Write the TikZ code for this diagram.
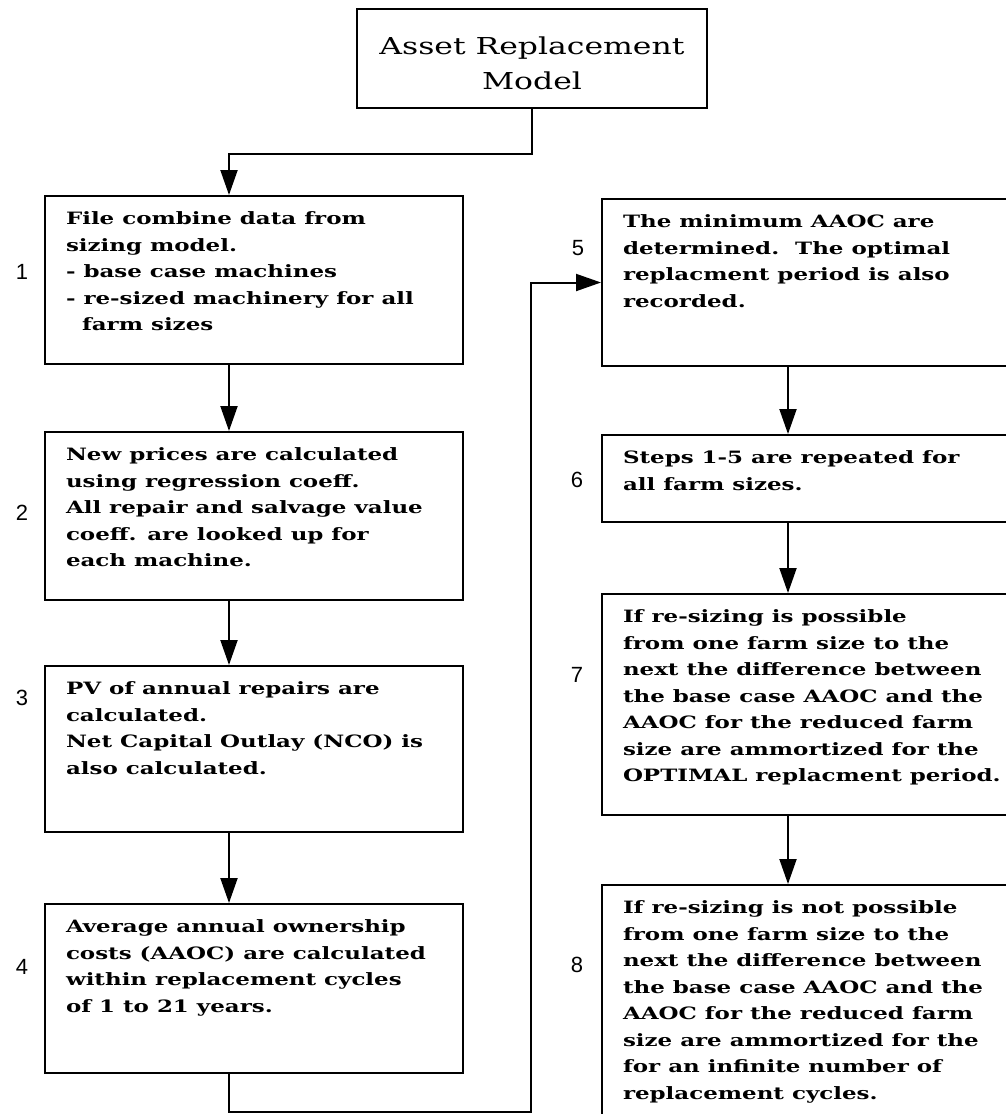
\documentclass[tikz,border=0pt]{standalone}
\usepackage{fontspec}
\usetikzlibrary{arrows.meta}
\newfontfamily\boxfont{DejaVu Serif}[FakeStretch=1.35]
\newfontfamily\labelfont{Liberation Sans}
\newcommand{\stepbody}[2]{\parbox[c][#1][t]{188pt}{\begin{tabular}{@{}l@{}}#2\end{tabular}}}
\tikzset{
  stepbox/.style={draw, line width=1pt, anchor=north west, inner xsep=10.5pt, inner ysep=5pt,
    font=\boxfont\bfseries\fontsize{8.5}{13.25}\selectfont},
  titlebox/.style={draw, line width=1pt, minimum width=175pt, minimum height=49.5pt,
    inner sep=0pt, align=center, font=\boxfont\fontsize{11.65}{17.5}\selectfont},
  steplabel/.style={font=\labelfont\fontsize{11}{13}\selectfont},
  flow/.style={line width=1pt, -{Triangle[length=12.5pt,width=8.5pt]}}
}
\begin{document}
\begin{tikzpicture}[x=0.5pt,y=-0.5pt]
\useasboundingbox (0,0) rectangle (1006,1114);
\clip (0,0) rectangle (1006,1114);
% columns of the flow lines
\coordinate (colL) at (229,0);
\coordinate (colR) at (788,0);
\coordinate (loopx) at (531,0);
\coordinate (bot) at (0,1112);
\node[titlebox] (title) at (532,58.5) {\rule{0pt}{14pt}Asset Replacement\\Model};
% left column
\node[stepbox] (s1) at (44,195) {\stepbody{74pt}{File combine data from\\sizing model.\\- base case machines\\- re-sized machinery for all\\\hspace*{8pt}farm sizes}};
\node[stepbox] (s2) at (44,431) {\stepbody{74pt}{New prices are calculated\\using regression coeff.\\All repair and salvage value\\coeff. are looked up for\\each machine.}};
\node[stepbox] (s3) at (44,665) {\stepbody{73pt}{PV of annual repairs are\\calculated.\\Net Capital Outlay (NCO) is\\also calculated.}};
\node[stepbox] (s4) at (44,903) {\stepbody{74.5pt}{Average annual ownership\\costs (AAOC) are calculated\\within replacement cycles\\of 1 to 21 years.}};
% right column
\node[stepbox] (s5) at (601,198) {\stepbody{73.5pt}{The minimum AAOC are\\determined.\ \ The optimal\\replacment period is also\\recorded.}};
\node[stepbox] (s6) at (601,434) {\stepbody{33.5pt}{Steps 1-5 are repeated for\\all farm sizes.}};
\node[stepbox] (s7) at (601,593) {\stepbody{100.5pt}{If re-sizing is possible\\from one farm size to the\\next the difference between\\the base case AAOC and the\\AAOC for the reduced farm\\size are ammortized for the\\OPTIMAL replacment period.}};
\node[stepbox] (s8) at (601,884) {\stepbody{120pt}{If re-sizing is not possible\\from one farm size to the\\next the difference between\\the base case AAOC and the\\AAOC for the reduced farm\\size are ammortized for the\\for an infinite number of\\replacement cycles.}};
% step numbers
\node[steplabel] (n1) at (22,272) {1};
\node[steplabel] (n2) at (22,513) {2};
\node[steplabel] (n3) at (22,698) {3};
\node[steplabel] (n4) at (22,967) {4};
\node[steplabel] (n5) at (578,248) {5};
\node[steplabel] (n6) at (577,480) {6};
\node[steplabel] (n7) at (577,675) {7};
\node[steplabel] (n8) at (577,965) {8};
% flow
\draw[flow] (title.south) -- ++(0,45) -| (s1.north -| colL);
\draw[flow] (s1.south -| colL) -- (s2.north -| colL);
\draw[flow] (s2.south -| colL) -- (s3.north -| colL);
\draw[flow] (s3.south -| colL) -- (s4.north -| colL);
\draw[flow] (s4.south -| colL) -- (colL |- bot) -| (loopx |- s5.west) -- (s5.west);
\draw[flow] (s5.south -| colR) -- (s6.north -| colR);
\draw[flow] (s6.south -| colR) -- (s7.north -| colR);
\draw[flow] (s7.south -| colR) -- (s8.north -| colR);
\end{tikzpicture}
\end{document}
